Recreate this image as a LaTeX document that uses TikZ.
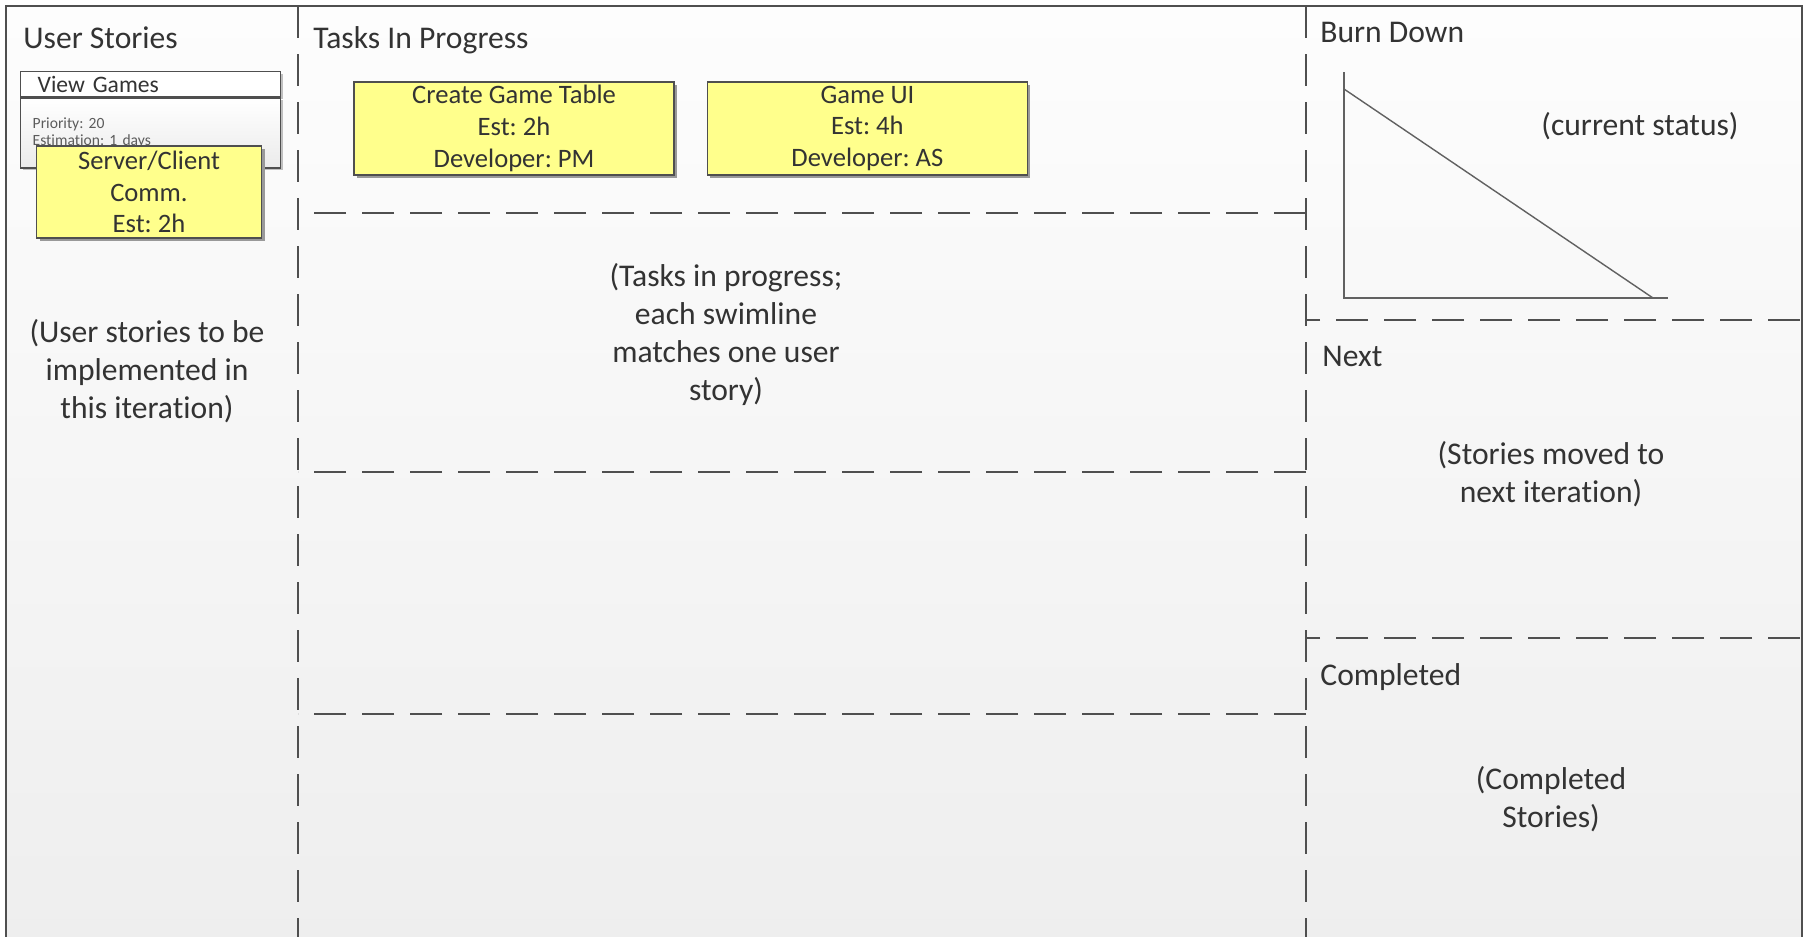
\documentclass[tikz,border=0pt]{standalone}
\usepackage{fontspec}
\setmainfont{Carlito}[Ligatures=NoCommon]
\usepackage{tikz}
\usetikzlibrary{positioning, shadows}
\frenchspacing

\definecolor{inkgray}{HTML}{333333}
\definecolor{linegray}{HTML}{4F4F4F}
\definecolor{cardyellow}{HTML}{FFFF8C}
\definecolor{boardtop}{HTML}{FDFDFD}
\definecolor{boardbottom}{HTML}{EEEEEE}

\tikzset{
  coltitle/.style={anchor=base west, inner sep=0pt, text=inkgray, font=\fontsize{15.8}{19}\selectfont},
  boardnote/.style={align=center, inner sep=0pt, text=inkgray, font=\fontsize{15.8}{19}\selectfont},
  task/.style={rectangle, draw=linegray, line width=0.7pt, fill=cardyellow, align=center, text=inkgray, inner sep=0pt, font=\fontsize{13.3}{15.8}\selectfont, drop shadow={shadow xshift=1.5pt, shadow yshift=-1.5pt, fill=black!40, opacity=1}},
  lane/.style={draw=linegray, line width=0.8pt, dash pattern=on 16pt off 8pt},
  chartline/.style={draw=linegray!90, line width=0.7pt},
}

\begin{document}
\begin{tikzpicture}[x=0.5pt, y=-0.5pt]
  \useasboundingbox (0,0) rectangle (1806,937);
  \clip (0,0) rectangle (1806,937);
  \shade[top color=boardtop, bottom color=boardbottom] (6,6) rectangle (1802,950);%board background
  \draw[draw=linegray, line width=1pt] (6,960) -- (6,6) -- (1802,6) -- (1802,960);%outer frame

  % column separators
  \coordinate (sep1top) at (298,6);
  \coordinate (sep1bot) at (298,960);
  \coordinate (sep2top) at (1306,6);
  \coordinate (sep2bot) at (1306,960);
  \draw[lane] (sep1top) -- (sep1bot);%stories | tasks
  \draw[lane] (sep2top) -- (sep2bot);%tasks | status
  \foreach \y in {213,472,714}
    \draw[lane] (1306,\y) -- (298,\y);%swimlanes
  \foreach \y in {320,638}
    \draw[lane] (1800,\y) -- (1306,\y);%right column rows

  % column titles
  \node (ustitle) [coltitle] at (23,48) {User Stories};
  \node (tptitle) [coltitle] at (313,48) {Tasks In Progress};
  \node (bdtitle) [coltitle] at (1320,42) {Burn Down};
  \node (nxtitle) [coltitle] at (1322,366) {Next};
  \node (cptitle) [coltitle] at (1320,685) {Completed};

  % placeholder notes
  \node (usnote) [boardnote] at (147,371) {(User stories to be\\implemented in\\this iteration)};
  \node (tpnote) [boardnote] at (726,334) {(Tasks in progress;\\each swimline\\matches one user\\story)};
  \node (bdnote) [boardnote] at (1640,126) {(current status)};
  \node (nxnote) [boardnote] at (1551,474) {(Stories moved to\\next iteration)};
  \node (cpnote) [boardnote] at (1551,799) {(Completed\\Stories)};

  % user story card
  \node (vghead) [anchor=north west, draw=linegray, line width=0.7pt, fill=white, minimum height=12.5pt, text width=113pt, inner xsep=8.5pt, inner ysep=0pt, align=left, text=inkgray, font=\fontsize{11.8}{13}\selectfont, drop shadow={shadow xshift=1pt, shadow yshift=-1pt, fill=black!25, opacity=1}] at (20,71) {View Games};%story header
  \node (vgbody) [below=0 of vghead, draw=linegray, line width=0.7pt, top color=white, bottom color=black!8, minimum height=35pt, text width=118pt, inner xsep=6pt, inner ysep=0pt, align=left, text=inkgray!80, font=\fontsize{7.8}{8.5}\selectfont, drop shadow={shadow xshift=1pt, shadow yshift=-1pt, fill=black!25, opacity=1}] {Priority: 20\\Estimation: 1 days\\[6pt]};%story details

  % task cards
  \node (sccard) [task, minimum width=112.5pt, minimum height=46pt] at (149,192) {Server/Client\\Comm.\\Est: 2h};
  \node (gtcard) [task, minimum width=160pt, minimum height=46.5pt] at (514,128.5) {Create Game Table\\Est: 2h\\Developer: PM};
  \node (uicard) [task, minimum width=160pt, minimum height=46.5pt, right=16pt of gtcard] {Game UI\\Est: 4h\\Developer: AS};

  % burn down chart
  \coordinate (bdorigin) at (1344,298);
  \coordinate (bdytop) at (1344,72);
  \coordinate (bdxend) at (1668,298);
  \coordinate (bdstart) at (1344,89);
  \coordinate (bdend) at (1653,298);
  \draw[chartline] (bdytop) -- (bdorigin) -- (bdxend);%axes
  \draw[chartline] (bdstart) -- (bdend);%remaining work
\end{tikzpicture}
\end{document}
